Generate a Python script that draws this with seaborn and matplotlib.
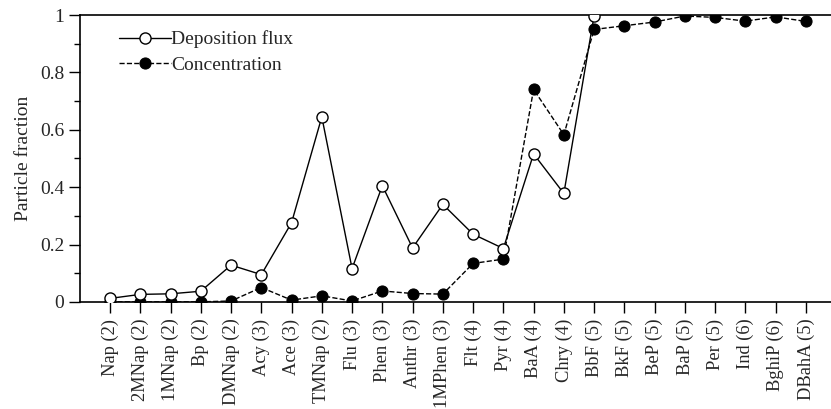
import numpy as np
import pandas as pd
import matplotlib
matplotlib.use("Agg")
import matplotlib.pyplot as plt
import seaborn as sns
from matplotlib.ticker import MultipleLocator

categories = ["Nap (2)", "2MNap (2)", "1MNap (2)", "Bp (2)", "DMNap (2)", "Acy (3)",
              "Ace (3)", "TMNap (2)", "Flu (3)", "Phen (3)", "Anthr (3)", "1MPhen (3)",
              "Flt (4)", "Pyr (4)", "BaA (4)", "Chry (4)", "BbF (5)", "BkF (5)",
              "BeP (5)", "BaP (5)", "Per (5)", "Ind (6)", "BghiP (6)", "DBahA (5)"]
deposition_flux = [0.012, 0.026, 0.028, 0.037, 0.128, 0.095, 0.276, 0.645, 0.116,
                   0.405, 0.188, 0.340, 0.236, 0.186, 0.516, 0.378, 0.998,
                   np.nan, np.nan, np.nan, np.nan, np.nan, np.nan, np.nan]
concentration = [0.0, 0.0, 0.0, 0.0, 0.003, 0.050, 0.006, 0.021, 0.003, 0.038,
                 0.029, 0.027, 0.134, 0.149, 0.741, 0.583, 0.950, 0.963, 0.976,
                 0.997, 0.992, 0.979, 0.994, 0.978]

df = pd.DataFrame({"x": np.arange(len(categories)), "flux": deposition_flux,
                   "conc": concentration})

sns.set_theme(style="ticks")
plt.rcParams["font.family"] = ["Liberation Serif", "DejaVu Serif"]

fig = plt.figure(figsize=(8.31, 4.09), dpi=100)
ax = fig.add_axes([0.096, 0.262, 0.904, 0.701])

sns.lineplot(data=df, x="x", y="conc", ax=ax, color="black", linestyle="--",
             linewidth=1.0, marker="o", markersize=8, markerfacecolor="black",
             markeredgecolor="black", label="Concentration", zorder=3)
sns.lineplot(data=df, x="x", y="flux", ax=ax, color="black", linestyle="-",
             linewidth=1.0, marker="o", markersize=8, markerfacecolor="white",
             markeredgecolor="black", markeredgewidth=1.0,
             label="Deposition flux", zorder=4)

ax.set_xlim(-1, 23.83)
ax.set_ylim(0, 1)
ax.set_xticks(np.arange(len(categories)))
ax.set_xticklabels(categories, rotation=90, fontsize=13.3)
ax.yaxis.set_minor_locator(MultipleLocator(0.1))
ax.set_yticks([0, 0.2, 0.4, 0.6, 0.8, 1.0])
ax.set_yticklabels(["0", "0.2", "0.4", "0.6", "0.8", "1"], fontsize=14)
ax.tick_params(axis="y", which="major", direction="out", length=8, width=1, color="black", pad=3)
ax.tick_params(axis="y", which="minor", direction="out", length=4, width=1, color="black")
ax.tick_params(axis="x", which="major", direction="out", length=8, width=1, color="black", pad=4)
ax.set_xlabel("")
ax.set_ylabel("Particle fraction", fontsize=14, labelpad=6)

for side in ["left", "bottom", "top"]:
    ax.spines[side].set_visible(True)
    ax.spines[side].set_color("black")
    ax.spines[side].set_linewidth(1.2)
ax.spines["right"].set_visible(False)

handles, labels = ax.get_legend_handles_labels()
order = [labels.index("Deposition flux"), labels.index("Concentration")]
ax.legend([handles[i] for i in order], [labels[i] for i in order],
          loc="upper left", bbox_to_anchor=(0.052, 0.946), frameon=False,
          fontsize=14, handlelength=2.7, handletextpad=0.0, labelspacing=0.4,
          borderaxespad=0.0, borderpad=0.0)

fig.savefig("out.png", dpi=100)
